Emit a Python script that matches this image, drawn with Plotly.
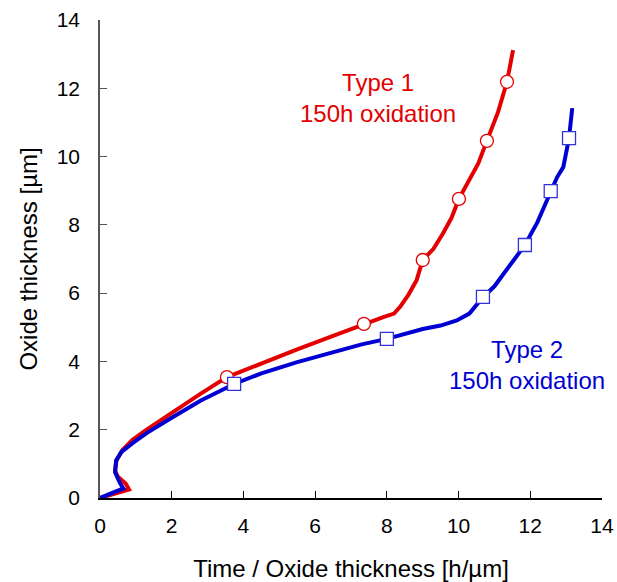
import plotly.graph_objects as go

# Type 1 curve (x = time/oxide thickness [h/um], y = oxide thickness [um])
t1_x = [0, 0.4, 0.81, 0.72, 0.5, 0.42, 0.46, 0.62, 0.9, 1.3, 2.0, 2.8, 3.54, 4.5, 5.5, 6.5, 7.36,
        7.6, 7.9, 8.2, 8.37, 8.6, 8.83, 9.0, 9.3, 9.56, 9.8, 10.01, 10.3, 10.55, 10.79, 11.1, 11.35, 11.45, 11.52]
t1_y = [0, 0.13, 0.25, 0.42, 0.62, 0.8, 1.1, 1.4, 1.7, 2.0, 2.5, 3.05, 3.54, 3.95, 4.35, 4.75, 5.10,
        5.2, 5.3, 5.4, 5.6, 5.95, 6.38, 6.97, 7.3, 7.74, 8.2, 8.76, 9.3, 9.8, 10.46, 11.3, 12.19, 12.7, 13.12]
t1_mx = [3.54, 7.36, 9.0, 10.01, 10.79, 11.35]
t1_my = [3.54, 5.10, 6.97, 8.76, 10.46, 12.19]

# Type 2 curve
t2_x = [0, 0.35, 0.65, 0.55, 0.42, 0.45, 0.6, 0.9, 1.3, 2.0, 2.8, 3.74, 4.5, 5.5, 6.5, 7.3, 8.0,
        8.5, 9.0, 9.5, 9.95, 10.3, 10.68, 11.0, 11.34, 11.85, 12.2, 12.57, 12.75, 12.92, 13.08, 13.17]
t2_y = [0, 0.14, 0.28, 0.45, 0.76, 1.1, 1.35, 1.6, 1.9, 2.35, 2.85, 3.34, 3.65, 3.98, 4.28, 4.5, 4.66,
        4.8, 4.95, 5.05, 5.2, 5.4, 5.88, 6.2, 6.68, 7.41, 8.08, 8.96, 9.4, 9.69, 10.54, 11.42]
t2_mx = [3.74, 8.0, 10.68, 11.85, 12.57, 13.08]
t2_my = [3.34, 4.66, 5.89, 7.41, 8.99, 10.54]

x_ticks = [0, 2, 4, 6, 8, 10, 12, 14]
y_ticks = [0, 2, 4, 6, 8, 10, 12, 14]

RED = "rgb(228,0,0)"
BLUE = "rgb(0,0,210)"
FONT = "Liberation Sans, Arial"

fig = go.Figure()
fig.add_trace(go.Scatter(x=t1_x, y=t1_y, mode="lines", line=dict(color=RED, width=4), showlegend=False))
fig.add_trace(go.Scatter(x=t2_x, y=t2_y, mode="lines", line=dict(color=BLUE, width=4), showlegend=False))
fig.add_trace(go.Scatter(x=t1_mx, y=t1_my, mode="markers", showlegend=False,
                         marker=dict(symbol="circle", size=13, color="white", line=dict(color=RED, width=1.3))))
fig.add_trace(go.Scatter(x=t2_mx, y=t2_my, mode="markers", showlegend=False,
                         marker=dict(symbol="square", size=13, color="white", line=dict(color="rgb(50,50,220)", width=1.3))))

fig.add_annotation(x=7.75, y=11.73, text="Type 1<br>150h oxidation", showarrow=False,
                   font=dict(family=FONT, size=24, color=RED), align="center")
fig.add_annotation(x=11.91, y=3.91, text="Type 2<br>150h oxidation", showarrow=False,
                   font=dict(family=FONT, size=24, color=BLUE), align="center")

fig.update_layout(
    width=617, height=582,
    margin=dict(l=100, r=15, t=20, b=84, autoexpand=False),
    plot_bgcolor="white", paper_bgcolor="white",
    font=dict(family=FONT, size=21, color="black"),
)
fig.update_xaxes(range=[0, 14], tickvals=x_ticks, ticks="inside", ticklen=7, tickcolor="black",
                 showline=True, linecolor="black", linewidth=1.5, showgrid=False, zeroline=False,
                 tickfont=dict(size=21), automargin=False, ticklabelstandoff=8,
                 title=dict(text="Time / Oxide thickness [h/µm]", font=dict(size=24), standoff=26))
fig.update_yaxes(range=[0, 14], tickvals=y_ticks, ticks="inside", ticklen=7, tickcolor="#555",
                 showline=True, linecolor="#555", linewidth=1.5, showgrid=False, zeroline=False,
                 tickfont=dict(size=21), automargin=False, ticklabelstandoff=14,
                 title=dict(text="Oxide thickness [µm]", font=dict(size=24), standoff=12))

fig.write_html("out.html", config={"displayModeBar": False},
               post_script="document.body.style.margin='0';document.body.style.overflow='hidden';")
